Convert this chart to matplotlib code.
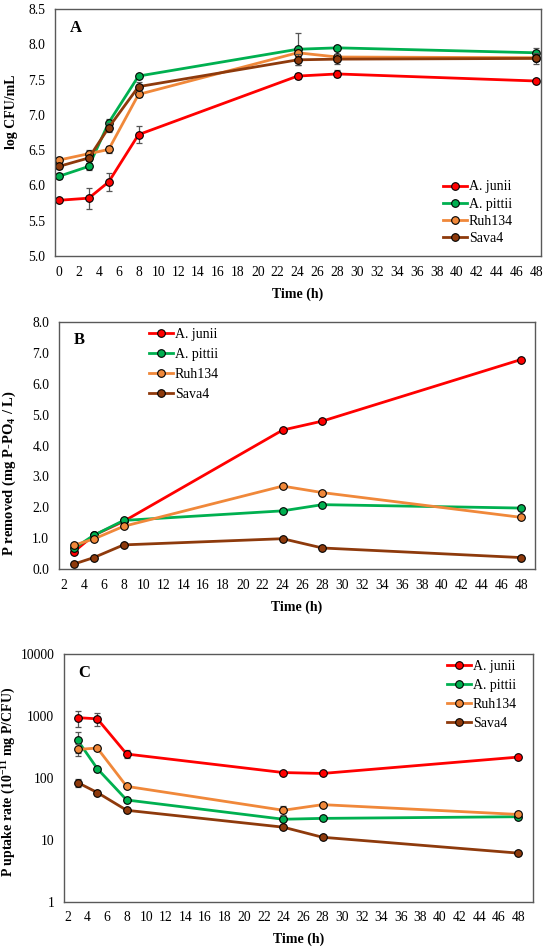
import matplotlib
matplotlib.use("Agg")
import matplotlib.pyplot as plt
from matplotlib.ticker import FixedLocator, FuncFormatter

plt.rcParams['font.family'] = ['Liberation Serif', 'DejaVu Serif']
plt.rcParams['mathtext.fontset'] = 'custom'
plt.rcParams['mathtext.rm'] = 'Liberation Serif'
plt.rcParams['mathtext.bf'] = 'Liberation Serif:bold'

strains = ["A. junii", "A. pittii", "Ruh134", "Sava4"]
colors = ["#FF0000", "#00B050", "#F0883A", "#8E3A0C"]

# panel A: growth
time_a = [0, 3, 5, 8, 24, 28, 48]
cfu = [
    [5.79, 5.82, 6.05, 6.72, 7.55, 7.58, 7.48],
    [6.13, 6.27, 6.89, 7.55, 7.93, 7.95, 7.88],
    [6.36, 6.45, 6.51, 7.29, 7.88, 7.82, 7.81],
    [6.27, 6.39, 6.82, 7.40, 7.78, 7.79, 7.80],
]
cfu_err = [
    [0.02, 0.15, 0.13, 0.12, 0.04, 0.05, 0.02],
    [0.04, 0.05, 0.05, 0.02, 0.23, 0.03, 0.07],
    [0.04, 0.05, 0.05, 0.03, 0.05, 0.04, 0.04],
    [0.03, 0.04, 0.06, 0.06, 0.08, 0.07, 0.08],
]

# panel B: P removed
time_b = [3, 5, 8, 24, 28, 48]
p_removed = [
    [0.57, 1.10, 1.55, 4.50, 4.79, 6.78],
    [0.68, 1.10, 1.58, 1.89, 2.09, 1.98],
    [0.78, 0.98, 1.39, 2.69, 2.48, 1.68],
    [0.17, 0.38, 0.79, 0.99, 0.69, 0.38],
]

# panel C: P uptake rate
uptake = [
    [940, 900, 243, 122, 118, 217],
    [404, 141, 44, 21.5, 22.2, 23.6],
    [289, 303, 73, 30, 37, 25.7],
    [84, 58, 30, 16, 11, 6.1],
]
uptake_err = [
    [280, 200, 35, 8, 6, 10],
    [150, 10, 3, 1.5, 1.5, 1.5],
    [65, 15, 4, 5, 2, 1.5],
    [12, 4, 2, 1, 0.5, 0.3],
]

fig = plt.figure(figsize=(5.5, 9.5), dpi=100)
axA = fig.add_axes([0.100, 0.7305, 0.884, 0.2600])
axB = fig.add_axes([0.1073, 0.4007, 0.8655, 0.2606])
axC = fig.add_axes([0.1164, 0.0508, 0.8527, 0.2607])

line_kw = dict(lw=2.0, marker='o', ms=5.5, mec='black', mew=0.8)
err_kw = dict(fmt='none', ecolor='#555555', elinewidth=0.9, capsize=2, capthick=0.9)

for name, c, y, e in zip(strains, colors, cfu, cfu_err):
    axA.errorbar(time_a, y, yerr=e, **err_kw)
    axA.plot(time_a, y, color=c, mfc=c, label=name, **line_kw)
for name, c, y in zip(strains, colors, p_removed):
    axB.plot(time_b, y, color=c, mfc=c, label=name, **line_kw)
for name, c, y, e in zip(strains, colors, uptake, uptake_err):
    axC.errorbar(time_b, y, yerr=e, **err_kw)
    axC.plot(time_b, y, color=c, mfc=c, label=name, **line_kw)

axA.set_xlim(-0.4, 48.5)
axA.set_ylim(5.0, 8.5)
axA.set_xticks(range(0, 49, 2))
axA.set_yticks([5.0, 5.5, 6.0, 6.5, 7.0, 7.5, 8.0, 8.5])
axA.yaxis.set_major_formatter(FuncFormatter(lambda v, p: f"{v:.1f}"))
axA.set_ylabel("log CFU/mL", fontweight='bold', fontsize=10)
axA.yaxis.set_label_coords(-0.076, 0.583)

axB.set_xlim(1.5, 49.4)
axB.set_ylim(0, 8)
axB.set_xticks(range(2, 49, 2))
axB.set_yticks(range(0, 9))
axB.yaxis.set_major_formatter(FuncFormatter(lambda v, p: f"{v:.1f}"))
axB.set_ylabel(r"P removed (mg P-PO$_\mathbf{4}$ / L)", fontweight='bold', fontsize=10.5)
axB.yaxis.set_label_coords(-0.086, 0.39)

axC.set_yscale('log')
axC.set_xlim(1.6, 49.5)
axC.set_ylim(1, 10000)
axC.set_xticks(range(2, 49, 2))
axC.yaxis.set_major_locator(FixedLocator([1, 10, 100, 1000, 10000]))
axC.yaxis.set_minor_locator(FixedLocator([]))
axC.yaxis.set_major_formatter(FuncFormatter(lambda v, p: f"{v:.0f}"))
axC.set_ylabel(r"P uptake rate (10$^{\mathbf{-11}}$ mg P/CFU)", fontweight='bold', fontsize=10)
axC.yaxis.set_label_coords(-0.100, 0.483)

for ax, letter in zip([axA, axB, axC], "ABC"):
    ax.set_xlabel("Time (h)", fontweight='bold', fontsize=10, labelpad=6)
    ax.tick_params(length=0, labelsize=9.8, pad=7)
    for s in ax.spines.values():
        s.set_color('#595959')
        s.set_linewidth(1.0)
    ax.text(0.03, 0.925, letter, transform=ax.transAxes, fontsize=12,
            fontweight='bold', va='center')

leg_kw = dict(frameon=False, fontsize=10, handlelength=1.75, handletextpad=0.1,
              borderpad=0, borderaxespad=0)
axA.legend(loc='lower left', bbox_to_anchor=(0.798, 0.045), labelspacing=0.3, **leg_kw)
axB.legend(loc='upper left', bbox_to_anchor=(0.189, 0.975), labelspacing=0.5, **leg_kw)
axC.legend(loc='upper left', bbox_to_anchor=(0.817, 0.978), labelspacing=0.45, **leg_kw)

fig.savefig("out.png", dpi=100)
